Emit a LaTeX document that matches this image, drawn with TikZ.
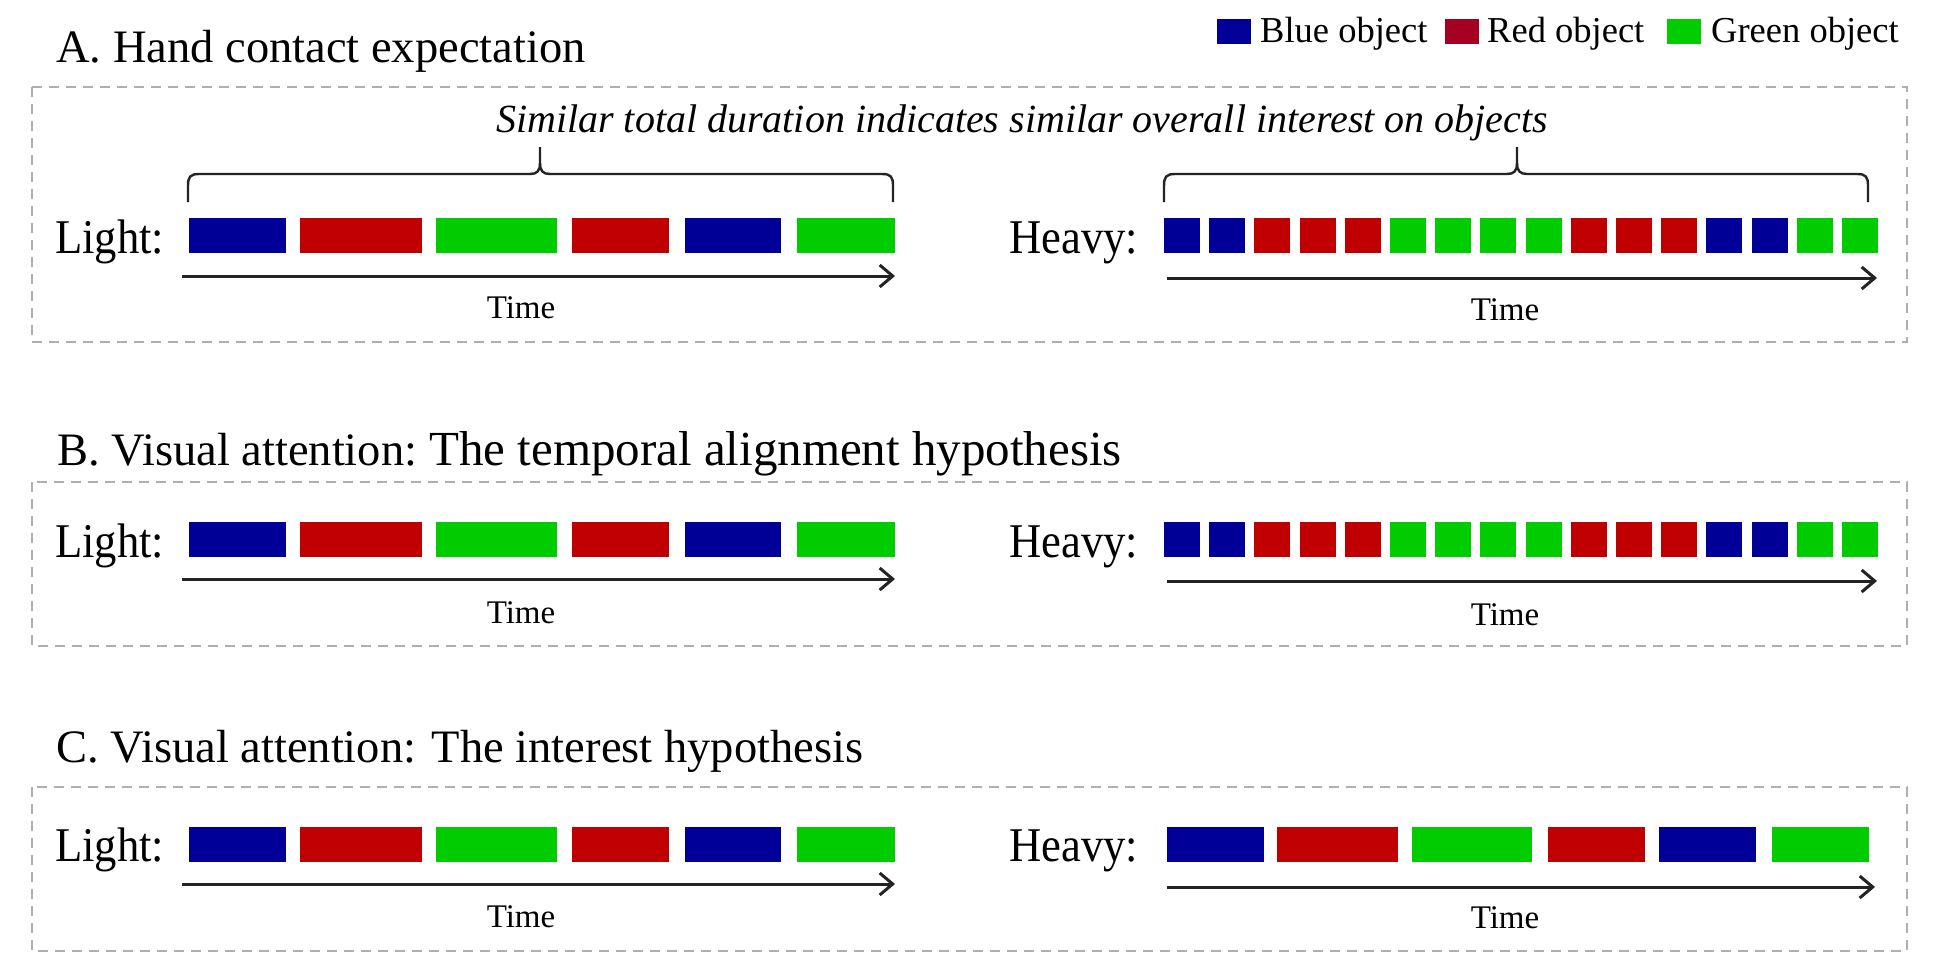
\documentclass[tikz,border=0pt]{standalone}
\usepackage{fontspec}
\setmainfont{Liberation Serif}
\newfontfamily\labelfont[FakeStretch=0.92]{Liberation Serif}
\usetikzlibrary{arrows.meta}
\definecolor{cblue}{RGB}{0,0,153}
\definecolor{cred}{RGB}{192,0,0}
\definecolor{cgreen}{RGB}{0,204,0}
\definecolor{lred}{RGB}{165,0,33}
\definecolor{boxgray}{RGB}{175,175,175}
\definecolor{ink}{RGB}{35,35,35}
\newcommand\lightbars[2]{%
  \foreach \a/\b/\c in {189/286/cblue,300/422/cred,436/557/cgreen,572/669/cred,685/781/cblue,797/895/cgreen}
    \fill[\c] ({\a+#1},#2) rectangle ({\b+#1},{#2+35});}
\newcommand\heavybars[1]{%
  \foreach \c [count=\i from 0] in {cblue,cblue,cred,cred,cred,cgreen,cgreen,cgreen,cgreen,cred,cred,cred,cblue,cblue,cgreen,cgreen}
    \fill[\c] ({1164+\i*45.2},#1) rectangle ({1200+\i*45.2},{#1+35});}
\newcommand\bracketshape[3]{%
  \draw[bracketline] (#1,202) -- (#1,186) .. controls (#1,177) and ({#1+2},174) .. ({#1+11},174)
     -- ({#3-10},174) .. controls ({#3-3},174) and (#3,171) .. (#3,163) -- (#3,147);
  \draw[bracketline] (#2,202) -- (#2,186) .. controls (#2,177) and ({#2-2},174) .. ({#2-11},174)
     -- ({#3+10},174) .. controls ({#3+3},174) and (#3,171) .. (#3,163);}
\begin{document}
\begin{tikzpicture}[x=1pt,y=-1pt,
  panel/.style={draw=boxgray,line width=2.4pt,dash pattern=on 10pt off 7pt},
  heading/.style={font=\fontsize{46.5}{50}\selectfont,anchor=base west,inner sep=0},
  rowlabel/.style={font=\labelfont\fontsize{48.5}{52}\selectfont,anchor=base west,inner sep=0},
  timelabel/.style={font=\fontsize{33}{36}\selectfont,anchor=base,inner sep=0},
  legendtext/.style={font=\fontsize{36.5}{40}\selectfont,anchor=base west,inner sep=0},
  note/.style={font=\fontsize{40}{44}\selectfont\itshape,anchor=base,inner sep=0},
  timearrow/.style={draw=ink,line width=3pt,-{Straight Barb[length=13pt,width=22pt,line width=3pt]}},
  bracketline/.style={draw=ink,line width=2.4pt},
  swatch/.style={inner sep=0,outer sep=0,minimum width=34pt,minimum height=25pt,anchor=north west}]
\useasboundingbox (0,0) rectangle (1950,966);
\fill[white] (0,0) rectangle (1950,966);

% legend
\node[swatch,fill=cblue] (sw1) at (1217,19) {};
\node[legendtext] (lg1) at (1260,43) {Blue object};
\node[swatch,fill=lred] (sw2) at (1445,19) {};
\node[legendtext] (lg2) at (1487,43) {Red object};
\node[swatch,fill=cgreen] (sw3) at (1667,19) {};
\node[legendtext] (lg3) at (1711,43) {Green object};

% panel frames
\draw[panel] (32,87) rectangle (1907,342);
\draw[panel] (32,482) rectangle (1907,646);
\draw[panel] (32,787) rectangle (1907,951);

% ---------- A ----------
\node[heading] (tA) at (56,63) {A. Hand contact expectation};
\node[note] (noteA) at (1022,132) {Similar total duration indicates similar overall interest on objects};
\bracketshape{188}{893}{540}
\bracketshape{1164}{1868}{1517}
\node[rowlabel] (lA) at (55,253) {Light:};
\node[rowlabel] (hA) at (1009,253) {Heavy:};
\lightbars{0}{218}
\heavybars{218}
\coordinate (lAs) at (182,276); \coordinate (lAe) at (895,276);
\coordinate (hAs) at (1167,278); \coordinate (hAe) at (1877,278);
\draw[timearrow] (lAs) -- (lAe);
\draw[timearrow] (hAs) -- (hAe);
\node[timelabel] (tlA) at (521,318) {Time};
\node[timelabel] (thA) at (1505,320) {Time};

% ---------- B ----------
\node[heading] (tB) at (57,465) {B. Visual attention:};
\node[heading,font=\fontsize{49}{52}\selectfont] (tB2) at (429,465) {The temporal alignment hypothesis};
\node[rowlabel] (lB) at (55,557) {Light:};
\node[rowlabel] (hB) at (1009,557) {Heavy:};
\lightbars{0}{522}
\heavybars{522}
\coordinate (lBs) at (182,579); \coordinate (lBe) at (895,579);
\coordinate (hBs) at (1167,581); \coordinate (hBe) at (1877,581);
\draw[timearrow] (lBs) -- (lBe);
\draw[timearrow] (hBs) -- (hBe);
\node[timelabel] (tlB) at (521,623) {Time};
\node[timelabel] (thB) at (1505,625) {Time};

% ---------- C ----------
\node[heading] (tC) at (56,762) {C. Visual attention: The interest hypothesis};
\node[rowlabel] (lC) at (55,861) {Light:};
\node[rowlabel] (hC) at (1009,861) {Heavy:};
\lightbars{0}{827}
\foreach \a/\b/\c in {1167/1264/cblue,1277/1398/cred,1412/1532/cgreen,1548/1645/cred,1659/1756/cblue,1772/1869/cgreen}
  \fill[\c] (\a,827) rectangle (\b,862);
\coordinate (lCs) at (182,884); \coordinate (lCe) at (895,884);
\coordinate (hCs) at (1167,887); \coordinate (hCe) at (1875,887);
\draw[timearrow] (lCs) -- (lCe);
\draw[timearrow] (hCs) -- (hCe);
\node[timelabel] (tlC) at (521,927) {Time};
\node[timelabel] (thC) at (1505,928) {Time};
\end{tikzpicture}
\end{document}
